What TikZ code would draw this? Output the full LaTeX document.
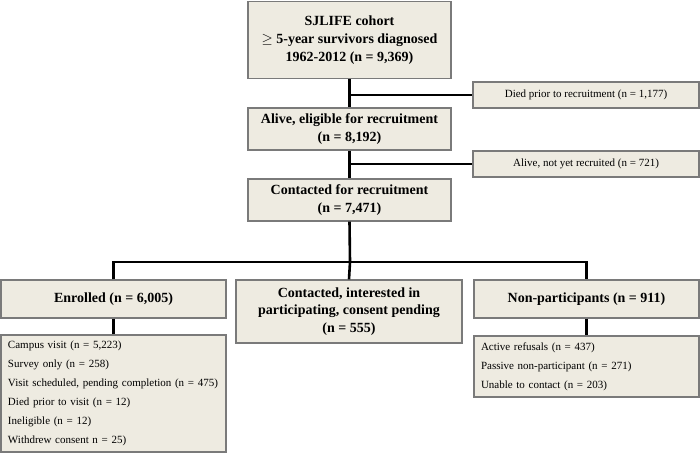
\documentclass[tikz,border=0pt]{standalone}
\usepackage{fontspec}
\setmainfont{Liberation Serif}
\definecolor{boxfill}{HTML}{EEEBE1}
\definecolor{boxline}{HTML}{7A7A7A}
\begin{document}
\begin{tikzpicture}[x=1pt,y=-1pt,
  box/.style={draw=boxline,fill=boxfill,line width=1.4pt,inner sep=2pt,align=center},
  mainbox/.style={box,font=\fontsize{14}{18}\selectfont\bfseries},
  sidebox/.style={box,font=\fontsize{11}{13}\selectfont},
  listbox/.style={box,font=\fontsize{11}{19}\selectfont,align=left,inner xsep=7pt},
  conn/.style={line width=2.6pt,black}]
\useasboundingbox (0,0) rectangle (700,458);
\node[mainbox,minimum width=203pt,minimum height=77pt] (top) at (349.5,40) {SJLIFE cohort\\$\geq$ 5-year survivors diagnosed\\1962-2012 (n = 9,369)};
\node[sidebox,minimum width=226pt,minimum height=26pt] (died) at (586,95) {Died prior to recruitment (n = 1,177)};
\node[mainbox,minimum width=203pt,minimum height=42pt] (alive) at (349.5,129) {Alive, eligible for recruitment\\(n = 8,192)};
\node[sidebox,minimum width=226pt,minimum height=26pt] (notyet) at (586,164) {Alive, not yet recruited (n = 721)};
\node[mainbox,minimum width=203pt,minimum height=42pt] (contact) at (349.5,200) {Contacted for recruitment\\(n = 7,471)};
\node[mainbox,minimum width=225pt,minimum height=38pt] (enrol) at (113.5,299) {Enrolled (n = 6,005)};
\node[mainbox,minimum width=226pt,minimum height=63pt,font=\fontsize{14}{17.5}\selectfont\bfseries] (pend) at (349,311.5) {Contacted, interested in\\participating, consent pending\\(n = 555)};
\node[mainbox,minimum width=225pt,minimum height=38pt] (nonp) at (586.5,299) {Non-participants (n = 911)};
\node[listbox,minimum width=225pt,minimum height=117pt,text width=211pt] (enlist) at (113.5,393.5) {Campus visit (n = 5,223)\\Survey only (n = 258)\\Visit scheduled, pending completion (n = 475)\\Died prior to visit (n = 12)\\Ineligible (n = 12)\\Withdrew consent n = 25)};
\node[listbox,minimum width=225pt,minimum height=61pt,text width=211pt] (nonlist) at (586.5,366.5) {Active refusals (n = 437)\\Passive non-participant (n = 271)\\Unable to contact (n = 203)};
\coordinate (b1) at (350,95);
\coordinate (b2) at (350,164);
\coordinate (hub) at (350,262);
\coordinate (hl) at (113.5,262);
\coordinate (hr) at (586.5,262);
\draw[conn] (top.south) -- (alive.north);
\draw[conn] (alive.south) -- (contact.north);
\draw[conn] (b1) -- (died.west);
\draw[conn] (b2) -- (notyet.west);
\draw[conn] (contact.south) -- (hub);
\draw[conn] (enrol.north) -- (hl) -- (hr) -- (nonp.north);
\draw[conn] (hub) -- (pend.north);
\draw[conn] (enrol.south) -- (enlist.north);
\draw[conn] (nonp.south) -- (nonlist.north);
\end{tikzpicture}
\end{document}
